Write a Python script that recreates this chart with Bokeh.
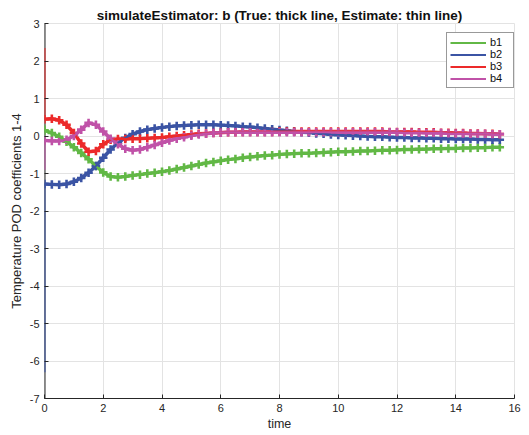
from bokeh.plotting import figure
from bokeh.models import Legend, LegendItem, FixedTicker, Range1d, Span
from bokeh.embed import file_html
from bokeh.resources import INLINE

# Sample times of the true POD coefficients
t = [i * 0.25 for i in range(63)]

# True coefficients (thick lines with markers)
b1 = [0.15, 0.08, -0.02, -0.15, -0.30, -0.45, -0.62, -0.80, -0.97, -1.08,
      -1.10, -1.08, -1.05, -1.03, -1.00, -0.98, -0.95, -0.92, -0.88, -0.84,
      -0.80, -0.76, -0.72, -0.69, -0.66, -0.63, -0.61, -0.58, -0.56, -0.54,
      -0.52, -0.51, -0.49, -0.48, -0.47, -0.46, -0.46, -0.45, -0.44, -0.43,
      -0.42, -0.42, -0.41, -0.40, -0.40, -0.39, -0.38, -0.38, -0.37, -0.36,
      -0.36, -0.35, -0.35, -0.34, -0.34, -0.33, -0.33, -0.32, -0.32, -0.31,
      -0.31, -0.30, -0.30]
b2 = [-1.28, -1.29, -1.30, -1.28, -1.22, -1.12, -0.98, -0.80, -0.58, -0.36,
      -0.18, -0.05, 0.05, 0.12, 0.17, 0.20, 0.23, 0.25, 0.27, 0.28,
      0.29, 0.30, 0.30, 0.30, 0.29, 0.28, 0.27, 0.25, 0.24, 0.22,
      0.20, 0.18, 0.16, 0.14, 0.12, 0.10, 0.09, 0.07, 0.06, 0.04,
      0.03, 0.02, 0.01, 0.00, -0.01, -0.02, -0.02, -0.03, -0.04, -0.04,
      -0.05, -0.05, -0.06, -0.06, -0.07, -0.07, -0.08, -0.08, -0.08, -0.09,
      -0.09, -0.10, -0.10]
b3 = [0.45, 0.46, 0.42, 0.30, 0.08, -0.20, -0.42, -0.40, -0.22, -0.10,
      -0.08, -0.08, -0.07, -0.07, -0.06, -0.05, -0.04, -0.02, 0.00, 0.02,
      0.04, 0.06, 0.07, 0.08, 0.09, 0.10, 0.10, 0.11, 0.11, 0.11,
      0.11, 0.11, 0.12, 0.12, 0.12, 0.12, 0.12, 0.12, 0.12, 0.12,
      0.12, 0.12, 0.12, 0.12, 0.12, 0.12, 0.12, 0.11, 0.11, 0.11,
      0.11, 0.10, 0.10, 0.10, 0.09, 0.09, 0.08, 0.08, 0.07, 0.07,
      0.06, 0.06, 0.05]
b4 = [-0.12, -0.13, -0.13, -0.10, 0.00, 0.17, 0.35, 0.30, 0.12, -0.07,
      -0.22, -0.34, -0.38, -0.36, -0.30, -0.24, -0.18, -0.12, -0.07, -0.03,
      0.01, 0.04, 0.06, 0.08, 0.09, 0.10, 0.10, 0.10, 0.10, 0.10,
      0.10, 0.10, 0.10, 0.10, 0.10, 0.10, 0.10, 0.10, 0.10, 0.10,
      0.10, 0.10, 0.10, 0.10, 0.10, 0.10, 0.10, 0.10, 0.10, 0.09,
      0.09, 0.09, 0.08, 0.08, 0.08, 0.07, 0.07, 0.07, 0.06, 0.06,
      0.06, 0.05, 0.05]

# Initial estimator guesses at t = 0 (thin lines jump to the true values)
est_init = [0.30, -6.30, 2.35, -0.90]

names = ["b1", "b2", "b3", "b4"]
series = [b1, b2, b3, b4]
colors = ["#62b846", "#3b54a4", "#ec2a2a", "#c052a8"]

x_ticks = list(range(0, 17, 2))
y_ticks = list(range(-7, 4))

FONT = "Liberation Sans"
AX = "#262626"

p = figure(width=529, height=435, output_backend="svg", toolbar_location=None,
           x_range=Range1d(0, 16), y_range=Range1d(-7, 3),
           min_border_left=44, min_border_right=15, min_border_top=23,
           min_border_bottom=37,
           title="simulateEstimator: b (True: thick line, Estimate: thin line)")

p.title.align = "center"
p.title.text_font = FONT
p.title.text_font_size = "13.5px"
p.title.text_font_style = "bold"
p.title.text_color = "#111111"
p.title.standoff = 1

for ax in (p.xaxis, p.yaxis):
    ax.axis_line_color = AX
    ax.major_tick_line_color = AX
    ax.major_tick_in = 4
    ax.major_tick_out = 0
    ax.minor_tick_line_color = None
    ax.major_label_text_font = FONT
    ax.major_label_text_font_size = "11px"
    ax.major_label_text_color = AX
    ax.axis_label_text_font = FONT
    ax.axis_label_text_font_style = "normal"
    ax.axis_label_text_color = AX
p.xaxis.axis_label_text_font_size = "12.5px"
p.yaxis.axis_label_text_font_size = "13px"

# The left axis line is drawn as a span under the data so the estimator
# jumps at t = 0 stay visible on top of it.
p.yaxis.axis_line_color = None
p.add_layout(Span(location=0, dimension="height", line_color=AX,
                  line_width=2, level="underlay"))

p.xaxis.ticker = FixedTicker(ticks=x_ticks)
p.yaxis.ticker = FixedTicker(ticks=y_ticks)
p.xaxis.major_label_overrides = {v: str(v) for v in x_ticks}
p.yaxis.major_label_overrides = {v: str(v) for v in y_ticks}
p.xaxis.axis_label = "time"
p.yaxis.axis_label = "Temperature POD coefficients 1-4"
p.xaxis.major_label_standoff = 5
p.yaxis.major_label_standoff = 5
p.xaxis.axis_label_standoff = 2
p.yaxis.axis_label_standoff = 3

p.xgrid.ticker = FixedTicker(ticks=x_ticks)
p.ygrid.ticker = FixedTicker(ticks=y_ticks)
p.grid.grid_line_color = "#e3e3e3"
p.grid.grid_line_width = 1
p.outline_line_color = "#e3e3e3"

# Thick true trajectories with plus markers
for vals, c in zip(series, colors):
    p.line(t, vals, line_color=c, line_width=3.5)
    p.scatter(t, vals, marker="cross", size=8.5, line_color=c, line_width=2.6)

# Thin estimator trajectories starting from the initial guesses
est_t = [0.0] + t
items = []
for name, vals, init, c in zip(names, series, est_init, colors):
    r = p.line(est_t, [init] + vals, line_color=c, line_width=2)
    items.append(LegendItem(label=name, renderers=[r]))

legend = Legend(items=items, location=(402, 310), orientation="vertical",
                label_text_font=FONT, label_text_font_size="11px",
                label_text_color="#111111", label_height=9, glyph_height=9,
                glyph_width=36, spacing=0, padding=3, margin=0,
                label_standoff=4, label_text_line_height=1.0,
                border_line_color="#333333", border_line_width=1,
                background_fill_color="white", background_fill_alpha=1.0)
p.add_layout(legend, "center")

open("out.html", "w").write(file_html(p, INLINE))
